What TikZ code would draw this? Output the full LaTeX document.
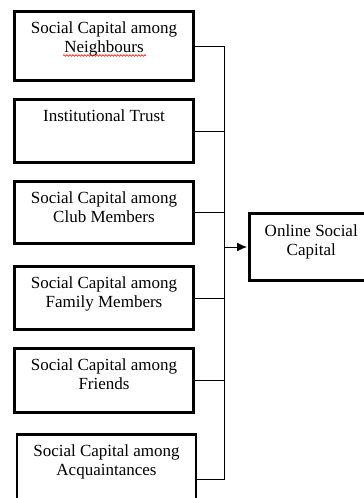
\documentclass[tikz,border=0pt]{standalone}
\usepackage{fontspec}
\setmainfont{Liberation Serif}
\usetikzlibrary{arrows.meta,decorations.pathmorphing}

\begin{document}
\begin{tikzpicture}[x=1pt,y=-1pt,
  factor/.style={draw,line width=2.8pt,outer sep=0pt,inner sep=0pt,anchor=north,
    minimum width=179pt,align=center,text height=21.5pt,text depth=#1,
    font=\fontsize{17}{19}\selectfont},
  twolines/.style={text height=40.5pt},
  link/.style={line width=1pt}]
\useasboundingbox (0,0) rectangle (364,498);
\def\cx{104}
\node[factor=28.5pt,twolines] (nbr) at (\cx,11.5) {Social Capital among\\Neighbours};
\node[factor=41.5pt] (trust) at (\cx,99.5) {Institutional Trust};
\node[factor=21.5pt,twolines] (club) at (\cx,181.5) {Social Capital among\\Club Members};
\node[factor=22.5pt,twolines] (fam) at (\cx,266.5) {Social Capital among\\Family Members};
\node[factor=23.5pt,twolines] (frnd) at (\cx,348.5) {Social Capital among\\Friends};
\node[factor=48.5pt,twolines] (acq) at (106.5,434.5) {Social Capital among\\Acquaintances};
\node[factor=25.5pt,minimum width=123.5pt,text height=41.5pt] (osc) at (311.25,213.5) {Online Social\\Capital};
\coordinate (jn) at (224,247);
\foreach \n in {nbr,trust,club,fam,frnd,acq}
  \draw[link] (\n.east) -| (jn);
\draw[link,-{Latex[length=10pt,width=9pt]},shorten >=2.5pt] (jn) -- (osc.west);
\draw[red,line width=0.6pt,decorate,decoration={snake,amplitude=0.8pt,segment length=3pt}] (63,55.5) -- (146,55.5);
\end{tikzpicture}
\end{document}
